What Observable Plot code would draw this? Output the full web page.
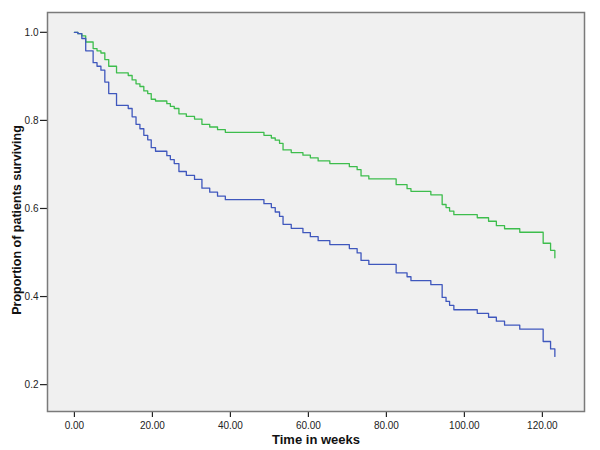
<!DOCTYPE html>
<html>
<head>
<meta charset="utf-8">
<script src="https://cdn.jsdelivr.net/npm/d3@7"></script>
<script src="https://cdn.jsdelivr.net/npm/@observablehq/plot@0.6"></script>
<style>
  body { margin: 0; background: #fff; }
  #chart svg { font-family: "Liberation Sans", Arial, sans-serif; }
</style>
</head>
<body>
<div id="chart"></div>
<script>
// Time (weeks) at which each step occurs (shared by both groups)
const times = [0, 0.9, 1.9, 2.9, 4.8, 5.8, 6.8, 7.8, 8.8, 10.8, 13.8, 14.8, 15.8, 16.8, 17.8, 18.8, 19.7, 20.8,
  23.7, 24.6, 25.6, 26.8, 28.7, 30.8, 32.7, 34.7, 36.7, 38.7, 48.6, 50.5, 51.5, 52.6, 53.5, 55.6, 58.6, 60.5,
  62.5, 65.5, 70.5, 72.5, 73.5, 75.5, 82.5, 85.3, 86.3, 91.4, 94.3, 95.3, 96.2, 97.3, 103.3, 106.2, 108.2,
  110.3, 114.2, 120.2, 122.1, 123.2];

const greenSurvival = [1.0, 0.997, 0.992, 0.978, 0.963, 0.958, 0.953, 0.938, 0.923, 0.908, 0.902, 0.892, 0.883,
  0.877, 0.867, 0.861, 0.848, 0.844, 0.838, 0.832, 0.827, 0.815, 0.809, 0.803, 0.791, 0.785, 0.779, 0.773,
  0.766, 0.760, 0.755, 0.748, 0.733, 0.727, 0.721, 0.715, 0.708, 0.702, 0.695, 0.688, 0.674, 0.667, 0.654,
  0.645, 0.639, 0.631, 0.609, 0.602, 0.594, 0.586, 0.579, 0.571, 0.561, 0.554, 0.546, 0.521, 0.505, 0.488];

const blueSurvival = [1.0, 0.997, 0.986, 0.958, 0.931, 0.923, 0.914, 0.887, 0.861, 0.834, 0.827, 0.808, 0.791,
  0.781, 0.766, 0.756, 0.738, 0.730, 0.720, 0.711, 0.702, 0.684, 0.675, 0.666, 0.646, 0.637, 0.628, 0.620,
  0.611, 0.602, 0.592, 0.582, 0.564, 0.555, 0.545, 0.536, 0.527, 0.518, 0.509, 0.499, 0.482, 0.473, 0.454,
  0.445, 0.436, 0.427, 0.398, 0.389, 0.380, 0.370, 0.362, 0.353, 0.344, 0.335, 0.326, 0.298, 0.281, 0.264];

const xTicks = [0, 20, 40, 60, 80, 100, 120];
const yTicks = [0.2, 0.4, 0.6, 0.8, 1.0];
const xTitle = "Time in weeks";
const yTitle = "Proportion of patients surviving";

const green = times.map((t, i) => ({t, s: greenSurvival[i]}));
const blue = times.map((t, i) => ({t, s: blueSurvival[i]}));

const chart = Plot.plot({
  width: 600,
  height: 450,
  marginLeft: 47,
  marginRight: 16,
  marginTop: 12,
  marginBottom: 39,
  style: {background: "#ffffff", fontSize: "10px", color: "#222"},
  x: {domain: [-6.9, 130.8]},
  y: {domain: [0.139, 1.045]},
  marks: [
    Plot.frame({fill: "#f0f0f0", stroke: null}),
    Plot.axisX({ticks: xTicks, tickFormat: d => d.toFixed(2), tickSize: 6, tickPadding: 4, label: null, stroke: "#222", strokeWidth: 1.2}),
    Plot.axisY({ticks: yTicks, tickFormat: d => d.toFixed(1), tickSize: 7, tickPadding: 2, label: null, stroke: "#222", strokeWidth: 1.2}),
    Plot.line(green, {x: "t", y: "s", curve: "step-after", stroke: "#3dbd4c", strokeWidth: 1.3}),
    Plot.line(blue, {x: "t", y: "s", curve: "step-after", stroke: "#3f57bd", strokeWidth: 1.3}),
    Plot.frame({stroke: "#7a7a7a", strokeWidth: 1.5}),
    Plot.text([xTitle], {frameAnchor: "bottom", lineAnchor: "middle", dy: 28, fontWeight: "bold", fontSize: 13, fill: "#111"}),
    Plot.text([yTitle], {frameAnchor: "left", textAnchor: "middle", lineAnchor: "middle", rotate: -90, dx: -31, dy: 8, fontWeight: "bold", fontSize: 12.5, fill: "#111"})
  ]
});
document.getElementById("chart").append(chart);
</script>
</body>
</html>
